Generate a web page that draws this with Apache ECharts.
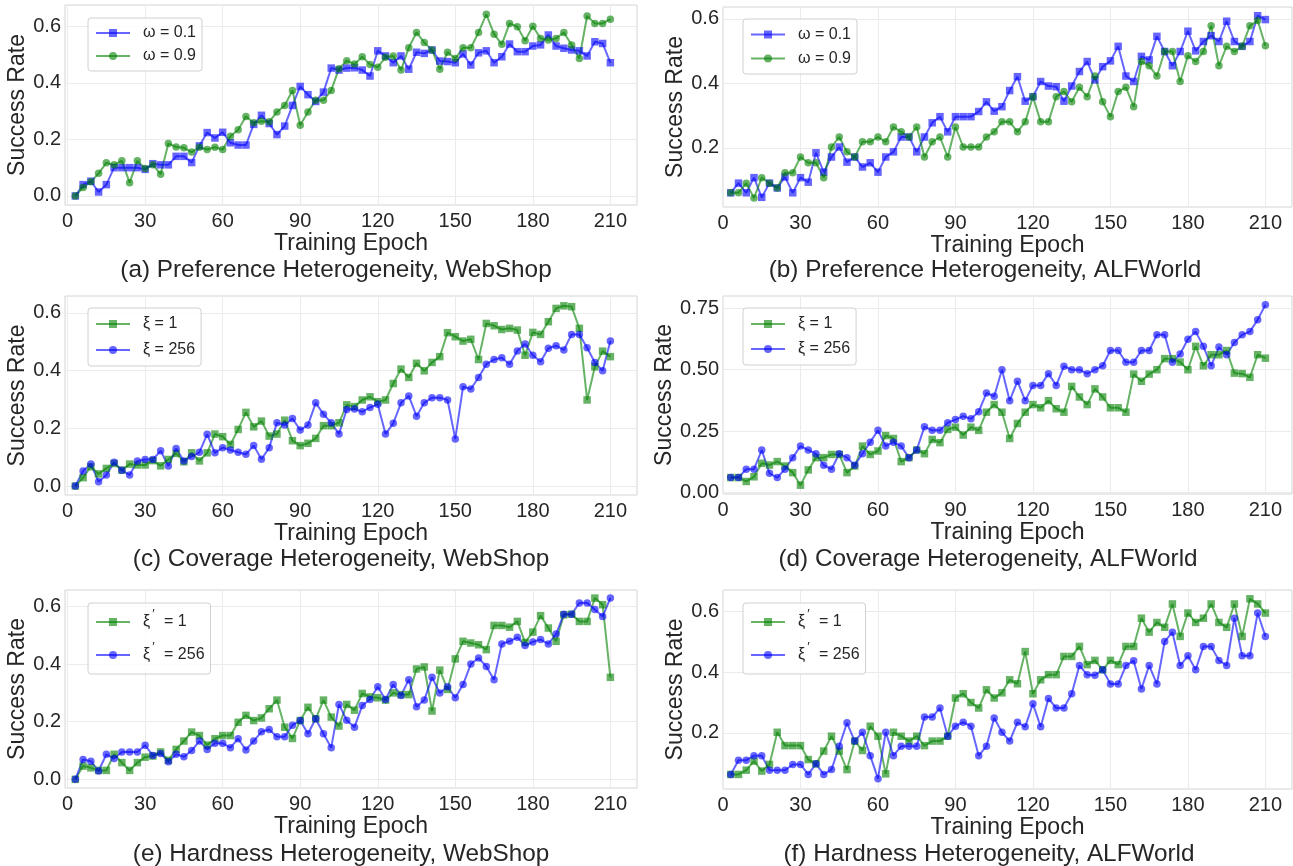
<!DOCTYPE html>
<html>
<head>
<meta charset="utf-8">
<title>Success rate under heterogeneity</title>
<script src="https://cdn.jsdelivr.net/npm/echarts@6.0.0/dist/echarts.min.js"></script>
<style>
  html, body { margin: 0; padding: 0; background: #fff; }
  #chart { width: 1293px; height: 866px; }
</style>
</head>
<body>
<div id="chart"></div>
<script>
// x values shared by every panel
const epochs = [3, 6, 9, 12, 15, 18, 21, 24, 27, 30, 33, 36, 39, 42, 45, 48, 51, 54, 57, 60,
  63, 66, 69, 72, 75, 78, 81, 84, 87, 90, 93, 96, 99, 102, 105, 108, 111, 114, 117, 120,
  123, 126, 129, 132, 135, 138, 141, 144, 147, 150, 153, 156, 159, 162, 165, 168, 171, 174, 177, 180,
  183, 186, 189, 192, 195, 198, 201, 204, 207, 210];

// (a) preference heterogeneity, WebShop
const prefShopW01 = [0.0, 0.04, 0.052, 0.014, 0.04, 0.10, 0.10, 0.10, 0.10, 0.094,
  0.114, 0.11, 0.11, 0.14, 0.14, 0.118, 0.177, 0.224, 0.205, 0.225,
  0.188, 0.18, 0.18, 0.253, 0.285, 0.256, 0.217, 0.247, 0.32, 0.387,
  0.358, 0.334, 0.367, 0.452, 0.445, 0.452, 0.453, 0.445, 0.424, 0.513,
  0.495, 0.471, 0.495, 0.448, 0.508, 0.504, 0.516, 0.477, 0.475, 0.471,
  0.502, 0.463, 0.506, 0.513, 0.471, 0.492, 0.537, 0.51, 0.51, 0.53,
  0.534, 0.569, 0.53, 0.522, 0.516, 0.513, 0.495, 0.545, 0.539, 0.471];
const prefShopW09 = [0.0, 0.03, 0.05, 0.08, 0.117, 0.11, 0.124, 0.047, 0.124, 0.097,
  0.11, 0.077, 0.185, 0.173, 0.17, 0.155, 0.172, 0.164, 0.172, 0.164,
  0.211, 0.234, 0.281, 0.259, 0.264, 0.262, 0.297, 0.32, 0.373, 0.25,
  0.297, 0.338, 0.338, 0.373, 0.45, 0.478, 0.466, 0.492, 0.465, 0.455,
  0.49, 0.495, 0.445, 0.524, 0.578, 0.542, 0.516, 0.448, 0.508, 0.486,
  0.524, 0.524, 0.578, 0.642, 0.572, 0.536, 0.61, 0.598, 0.549, 0.60,
  0.557, 0.551, 0.557, 0.578, 0.534, 0.486, 0.636, 0.61, 0.61, 0.625];

// (b) preference heterogeneity, ALFWorld
const prefAlfW01 = [0.061, 0.091, 0.061, 0.108, 0.047, 0.091, 0.076, 0.11, 0.061, 0.108,
  0.094, 0.185, 0.125, 0.172, 0.203, 0.156, 0.172, 0.141, 0.154, 0.125,
  0.172, 0.188, 0.234, 0.234, 0.188, 0.234, 0.278, 0.297, 0.25, 0.297,
  0.297, 0.297, 0.313, 0.343, 0.314, 0.328, 0.378, 0.421, 0.345, 0.359,
  0.406, 0.392, 0.39, 0.345, 0.392, 0.437, 0.468, 0.411, 0.452, 0.47,
  0.515, 0.423, 0.406, 0.484, 0.473, 0.546, 0.499, 0.455, 0.499, 0.562,
  0.501, 0.53, 0.548, 0.53, 0.593, 0.53, 0.515, 0.53, 0.61, 0.598];
const prefAlfW09 = [0.061, 0.061, 0.091, 0.045, 0.108, 0.091, 0.076, 0.123, 0.123, 0.172,
  0.154, 0.154, 0.108, 0.203, 0.234, 0.188, 0.172, 0.219, 0.219, 0.234,
  0.219, 0.265, 0.25, 0.234, 0.265, 0.172, 0.219, 0.234, 0.172, 0.265,
  0.203, 0.203, 0.203, 0.234, 0.25, 0.281, 0.281, 0.25, 0.281, 0.359,
  0.281, 0.281, 0.359, 0.375, 0.343, 0.388, 0.359, 0.423, 0.343, 0.297,
  0.375, 0.388, 0.328, 0.468, 0.455, 0.423, 0.499, 0.499, 0.406, 0.486,
  0.468, 0.499, 0.579, 0.455, 0.515, 0.499, 0.515, 0.579, 0.595, 0.517];

// (c) coverage heterogeneity, WebShop
const covShopX1 = [0.0, 0.029, 0.067, 0.042, 0.061, 0.078, 0.055, 0.076, 0.073, 0.073,
  0.088, 0.07, 0.092, 0.113, 0.084, 0.115, 0.087, 0.115, 0.18, 0.171,
  0.144, 0.196, 0.255, 0.205, 0.225, 0.173, 0.18, 0.228, 0.157, 0.14,
  0.148, 0.165, 0.209, 0.209, 0.219, 0.281, 0.275, 0.298, 0.309, 0.292,
  0.298, 0.355, 0.405, 0.376, 0.425, 0.399, 0.428, 0.448, 0.531, 0.517,
  0.502, 0.508, 0.438, 0.563, 0.555, 0.542, 0.546, 0.54, 0.453, 0.532,
  0.525, 0.569, 0.615, 0.624, 0.621, 0.546, 0.298, 0.413, 0.467, 0.448];
const covShopX256 = [0.0, 0.052, 0.076, 0.015, 0.038, 0.082, 0.055, 0.038, 0.087, 0.092,
  0.092, 0.122, 0.069, 0.13, 0.087, 0.102, 0.117, 0.179, 0.115, 0.133,
  0.125, 0.117, 0.11, 0.14, 0.093, 0.133, 0.219, 0.211, 0.234, 0.194,
  0.211, 0.288, 0.249, 0.219, 0.18, 0.265, 0.267, 0.257, 0.272, 0.283,
  0.18, 0.217, 0.288, 0.312, 0.242, 0.288, 0.306, 0.306, 0.298, 0.163,
  0.344, 0.336, 0.376, 0.422, 0.438, 0.444, 0.422, 0.468, 0.492, 0.453,
  0.43, 0.477, 0.486, 0.471, 0.525, 0.525, 0.479, 0.428, 0.399, 0.502];

// (d) coverage heterogeneity, ALFWorld
const covAlfX1 = [0.061, 0.061, 0.045, 0.064, 0.119, 0.112, 0.126, 0.108, 0.081, 0.03,
  0.092, 0.142, 0.142, 0.155, 0.155, 0.081, 0.108, 0.189, 0.155, 0.169,
  0.232, 0.22, 0.126, 0.142, 0.173, 0.158, 0.216, 0.203, 0.257, 0.266,
  0.234, 0.266, 0.253, 0.327, 0.358, 0.327, 0.22, 0.281, 0.327, 0.358,
  0.345, 0.374, 0.341, 0.327, 0.432, 0.389, 0.358, 0.422, 0.389, 0.345,
  0.345, 0.327, 0.482, 0.453, 0.482, 0.5, 0.545, 0.545, 0.531, 0.5,
  0.595, 0.516, 0.561, 0.561, 0.578, 0.486, 0.484, 0.469, 0.561, 0.547];
const covAlfX256 = [0.061, 0.061, 0.095, 0.095, 0.173, 0.078, 0.061, 0.095, 0.142, 0.189,
  0.173, 0.158, 0.111, 0.095, 0.158, 0.142, 0.111, 0.158, 0.205, 0.253,
  0.189, 0.205, 0.189, 0.142, 0.173, 0.268, 0.253, 0.253, 0.284, 0.297,
  0.311, 0.3, 0.329, 0.405, 0.392, 0.5, 0.374, 0.453, 0.374, 0.436,
  0.436, 0.484, 0.436, 0.514, 0.5, 0.5, 0.484, 0.5, 0.516, 0.578,
  0.578, 0.53, 0.53, 0.578, 0.578, 0.642, 0.642, 0.53, 0.564, 0.624,
  0.655, 0.595, 0.516, 0.592, 0.561, 0.611, 0.642, 0.655, 0.703, 0.764];

// (e) hardness heterogeneity, WebShop
const hardShopX1 = [0.0, 0.046, 0.04, 0.031, 0.031, 0.087, 0.058, 0.031, 0.058, 0.077,
  0.081, 0.095, 0.066, 0.104, 0.133, 0.164, 0.152, 0.119, 0.141, 0.152,
  0.152, 0.198, 0.222, 0.204, 0.213, 0.245, 0.275, 0.181, 0.142, 0.204,
  0.25, 0.21, 0.275, 0.216, 0.185, 0.26, 0.24, 0.298, 0.286, 0.283,
  0.275, 0.3, 0.294, 0.294, 0.383, 0.39, 0.237, 0.379, 0.312, 0.418,
  0.479, 0.473, 0.467, 0.45, 0.534, 0.534, 0.528, 0.548, 0.475, 0.511,
  0.568, 0.525, 0.479, 0.571, 0.573, 0.548, 0.548, 0.629, 0.606, 0.354];
const hardShopX256 = [0.0, 0.069, 0.063, 0.029, 0.087, 0.072, 0.095, 0.095, 0.095, 0.118,
  0.083, 0.09, 0.061, 0.087, 0.078, 0.1, 0.133, 0.104, 0.125, 0.125,
  0.11, 0.141, 0.102, 0.133, 0.165, 0.173, 0.148, 0.148, 0.188, 0.204,
  0.158, 0.21, 0.158, 0.11, 0.26, 0.205, 0.181, 0.256, 0.277, 0.321,
  0.277, 0.329, 0.291, 0.346, 0.252, 0.275, 0.354, 0.3, 0.321, 0.283,
  0.329, 0.4, 0.421, 0.392, 0.346, 0.47, 0.479, 0.493, 0.464, 0.477,
  0.485, 0.47, 0.504, 0.573, 0.573, 0.612, 0.612, 0.589, 0.565, 0.629];

// (f) hardness heterogeneity, ALFWorld
const hardAlfX1 = [0.063, 0.063, 0.077, 0.107, 0.074, 0.096, 0.202, 0.158, 0.158, 0.158,
  0.112, 0.098, 0.14, 0.189, 0.14, 0.079, 0.173, 0.142, 0.222, 0.189,
  0.065, 0.202, 0.189, 0.173, 0.189, 0.158, 0.173, 0.173, 0.189, 0.315,
  0.329, 0.3, 0.282, 0.342, 0.315, 0.332, 0.375, 0.362, 0.468, 0.329,
  0.375, 0.392, 0.392, 0.452, 0.452, 0.485, 0.425, 0.439, 0.408, 0.439,
  0.425, 0.485, 0.485, 0.578, 0.532, 0.564, 0.548, 0.625, 0.518, 0.595,
  0.564, 0.578, 0.625, 0.564, 0.548, 0.625, 0.518, 0.642, 0.625, 0.595];
const hardAlfX256 = [0.063, 0.11, 0.11, 0.125, 0.125, 0.077, 0.077, 0.077, 0.096, 0.096,
  0.063, 0.098, 0.063, 0.079, 0.156, 0.233, 0.173, 0.202, 0.125, 0.049,
  0.202, 0.125, 0.156, 0.156, 0.156, 0.252, 0.252, 0.282, 0.189, 0.222,
  0.235, 0.222, 0.125, 0.156, 0.249, 0.202, 0.173, 0.235, 0.22, 0.296,
  0.22, 0.313, 0.282, 0.282, 0.329, 0.422, 0.392, 0.39, 0.408, 0.361,
  0.361, 0.422, 0.438, 0.345, 0.422, 0.361, 0.501, 0.532, 0.422, 0.454,
  0.408, 0.485, 0.485, 0.439, 0.422, 0.578, 0.454, 0.454, 0.595, 0.518];

// tick labels
const xTicks = [0, 30, 60, 90, 120, 150, 180, 210];
const yTicksZero = [0, 0.2, 0.4, 0.6];
const yTicksLow = [0.2, 0.4, 0.6];
const yTicksQuarter = [0, 0.25, 0.5, 0.75];

const FONT = '"Liberation Sans", Arial, Helvetica, sans-serif';
const INK = '#262626';
const BLUE = '#0000ff';
const GREEN = '#008000';

const panels = [
  { title: '(a) Preference Heterogeneity, WebShop', tx: 331, ty: 251,
    grid: { left: 65, top: 5, width: 572, height: 200 }, xMin: -1, yMin: -0.032, yMax: 0.675,
    yTicks: yTicksZero, digits: 1,
    legend: { left: 88, top: 18, lh: 20, gap: 3 },
    series: [
      { name: 'ω = 0.1', data: prefShopW01, color: BLUE, symbol: 'rect' },
      { name: 'ω = 0.9', data: prefShopW09, color: GREEN, symbol: 'circle' }] },
  { title: '(b) Preference Heterogeneity, ALFWorld', tx: 980, ty: 251,
    grid: { left: 723, top: 7, width: 569, height: 200 }, xMin: 0, yMin: 0.017, yMax: 0.637,
    yTicks: yTicksLow, digits: 1,
    legend: { left: 743, top: 19, lh: 21, gap: 3 },
    series: [
      { name: 'ω = 0.1', data: prefAlfW01, color: BLUE, symbol: 'rect' },
      { name: 'ω = 0.9', data: prefAlfW09, color: GREEN, symbol: 'circle' }] },
  { title: '(c) Coverage Heterogeneity, WebShop', tx: 336, ty: 540,
    grid: { left: 65, top: 296, width: 572, height: 199 }, xMin: -1, yMin: -0.031, yMax: 0.658,
    yTicks: yTicksZero, digits: 1,
    legend: { left: 88, top: 308, lh: 22, gap: 4 },
    series: [
      { name: 'ξ = 1', data: covShopX1, color: GREEN, symbol: 'rect' },
      { name: 'ξ = 256', data: covShopX256, color: BLUE, symbol: 'circle' }] },
  { title: '(d) Coverage Heterogeneity, ALFWorld', tx: 983, ty: 540,
    grid: { left: 723, top: 296, width: 569, height: 198 }, xMin: 0, yMin: -0.006, yMax: 0.80,
    yTicks: yTicksQuarter, digits: 2,
    legend: { left: 743, top: 308, lh: 22, gap: 3 },
    series: [
      { name: 'ξ = 1', data: covAlfX1, color: GREEN, symbol: 'rect' },
      { name: 'ξ = 256', data: covAlfX256, color: BLUE, symbol: 'circle' }] },
  { title: '(e) Hardness Heterogeneity, WebShop', tx: 336, ty: 835,
    grid: { left: 65, top: 590, width: 572, height: 198 }, xMin: -1, yMin: -0.03, yMax: 0.657,
    yTicks: yTicksZero, digits: 1,
    legend: { left: 88, top: 603, lh: 28, gap: 5 },
    series: [
      { name: "ξ' = 1", data: hardShopX1, color: GREEN, symbol: 'rect' },
      { name: "ξ' = 256", data: hardShopX256, color: BLUE, symbol: 'circle' }] },
  { title: '(f) Hardness Heterogeneity, ALFWorld', tx: 984, ty: 835,
    grid: { left: 723, top: 590, width: 569, height: 199 }, xMin: 0, yMin: 0.015, yMax: 0.671,
    yTicks: yTicksLow, digits: 1,
    legend: { left: 743, top: 603, lh: 28, gap: 5 },
    series: [
      { name: "ξ' = 1", data: hardAlfX1, color: GREEN, symbol: 'rect' },
      { name: "ξ' = 256", data: hardAlfX256, color: BLUE, symbol: 'circle' }] }
];

const option = {
  animation: false,
  backgroundColor: '#fff',
  textStyle: { fontFamily: FONT },
  title: [], grid: [], xAxis: [], yAxis: [], legend: [], series: []
};

panels.forEach((p, i) => {
  option.title.push({
    text: p.title, left: p.tx, top: p.ty, textAlign: 'center',
    textStyle: { fontFamily: FONT, fontSize: 24.3, fontWeight: 'normal', color: INK, lineHeight: 28 }
  });
  option.grid.push(Object.assign({ show: true, borderColor: '#d4d4d4', borderWidth: 1, backgroundColor: '#fff' }, p.grid));
  option.xAxis.push({
    gridIndex: i, type: 'value', min: p.xMin, max: 220.3,
    name: 'Training Epoch', nameLocation: 'middle', nameGap: 21,
    nameTextStyle: { fontFamily: FONT, fontSize: 23, color: INK },
    axisLine: { show: false }, axisTick: { show: false, customValues: xTicks },
    axisLabel: { customValues: xTicks, fontFamily: FONT, fontSize: 20, color: INK, margin: 6 },
    splitLine: { show: true, lineStyle: { color: '#ebebeb', width: 1 } }
  });
  option.yAxis.push({
    gridIndex: i, type: 'value', min: p.yMin, max: p.yMax,
    name: 'Success Rate', nameLocation: 'middle', nameGap: 33,
    nameTextStyle: { fontFamily: FONT, fontSize: 23, color: INK },
    axisLine: { show: false }, axisTick: { show: false, customValues: p.yTicks },
    axisLabel: { customValues: p.yTicks, fontFamily: FONT, fontSize: 20, color: INK, margin: 4,
      formatter: v => v.toFixed(p.digits) },
    splitLine: { show: true, lineStyle: { color: '#ebebeb', width: 1 } }
  });
  option.legend.push({
    orient: 'vertical', left: p.legend.left, top: p.legend.top,
    data: p.series.map(s => s.name),
    padding: [5, 6, 5, 7], itemGap: p.legend.gap, itemWidth: 34, itemHeight: 10,
    borderColor: '#d0d0d0', borderWidth: 1, borderRadius: 3, backgroundColor: 'rgba(255,255,255,0.8)',
    selectedMode: false,
    formatter: name => name.indexOf("ξ'") === 0 ? name.replace("ξ'", '{g|ξ}{p|′}') : name,
    textStyle: { fontFamily: FONT, fontSize: 16, color: INK, lineHeight: p.legend.lh, padding: [0, 0, 0, 8],
      rich: {
        g: { fontFamily: FONT, fontSize: 16, color: INK },
        p: { fontFamily: FONT, fontSize: 13, color: INK, verticalAlign: 'top', padding: [0, 5, 0, 2] }
      } }
  });
  p.series.forEach(s => {
    option.series.push({
      name: s.name, type: 'line', xAxisIndex: i, yAxisIndex: i,
      data: epochs.map((e, k) => [e, s.data[k]]),
      symbol: s.symbol, symbolSize: 7.5, showAllSymbol: true,
      lineStyle: { color: s.color, width: 2, opacity: 0.6 },
      itemStyle: { color: s.color, opacity: 0.6 },
      emphasis: { disabled: true }
    });
  });
});

const chart = echarts.init(document.getElementById('chart'), null, { renderer: 'canvas' });
chart.setOption(option);
</script>
</body>
</html>
